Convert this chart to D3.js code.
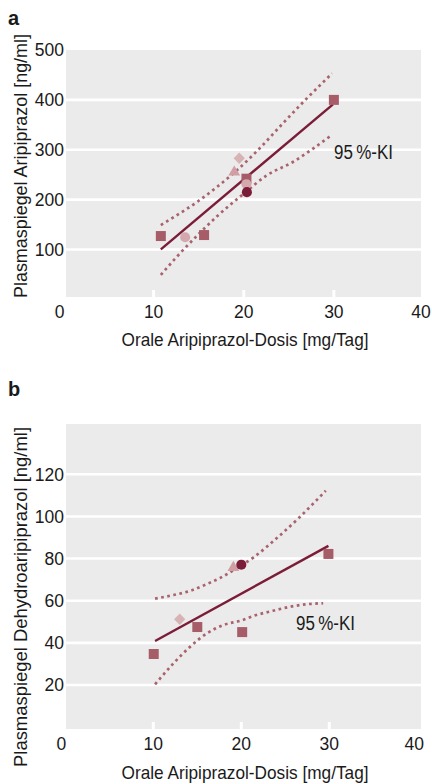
<!DOCTYPE html>
<html><head><meta charset="utf-8">
<script src="https://cdn.jsdelivr.net/npm/d3@7"></script>
<style>
html,body{margin:0;padding:0;background:#fff;}
svg text{font-family:"Liberation Sans","Arimo","DejaVu Sans",sans-serif;fill:#1a1a1a;}
</style></head>
<body>
<svg id="c" width="432" height="784"></svg>
<script>
// ---------- data ----------
const doseTicks = [0, 10, 20, 30, 40];
const xTitle = "Orale Aripiprazol-Dosis [mg/Tag]";
const ciLabel = "95\u2009%-KI";

// Panel a
const aTitle = "Plasmaspiegel Aripiprazol [ng/ml]";
const aYTicks = [100, 200, 300, 400, 500];
const aSquareX = [10.8, 15.6, 20.3, 30.0];
const aSquareY = [127, 129, 242, 400];
const aLightCircleX = [13.5, 20.3];
const aLightCircleY = [124.5, 231];
const aTriangleX = [18.95];
const aTriangleY = [255];
const aDiamondX = [19.5];
const aDiamondY = [283];
const aDarkCircleX = [20.35];
const aDarkCircleY = [215];
const aFitX = [10.8, 29.9];
const aFitY = [100.4, 391];
const aUpperX = [10.8, 12.5, 14.8, 17.0, 19.0, 21.5, 24.4, 27.0, 29.8];
const aUpperY = [149, 168, 195, 225, 255, 298, 354, 403, 453];
const aLowerX = [10.8, 12.5, 15.0, 17.0, 20.0, 22.5, 25.5, 27.5, 29.8];
const aLowerY = [49, 84, 131, 166, 212, 248, 276, 300, 330];

// Panel b
const bTitle = "Plasmaspiegel Dehydroaripiprazol [ng/ml]";
const bYTicks = [20, 40, 60, 80, 100, 120];
const bSquareX = [10.05, 15.0, 20.1, 29.9];
const bSquareY = [34.7, 47.5, 45.1, 82.2];
const bDiamondX = [13.0];
const bDiamondY = [51.2];
const bTriangleX = [19.1];
const bTriangleY = [75.7];
const bDarkCircleX = [20.0];
const bDarkCircleY = [77.1];
const bFitX = [10.2, 29.9];
const bFitY = [40.9, 86.0];
const bUpperX = [10.2, 12.3, 14.2, 16.1, 17.6, 19.5, 21.4, 24.0, 26.5, 28.2, 29.6];
const bUpperY = [61.0, 62.7, 64.7, 67.9, 70.8, 75.5, 80.6, 89.6, 99.1, 106.2, 112.2];
const bLowerX = [10.2, 12.3, 14.2, 16.1, 18.0, 19.9, 21.7, 23.6, 25.5, 27.4, 29.3];
const bLowerY = [20.3, 30.3, 38.2, 44.5, 48.5, 50.5, 53.2, 55.2, 57.1, 58.3, 58.8];

// ---------- style ----------
const C = {
  bg: "#ebebeb", grid: "#ffffff",
  square: "#a65d68", dark: "#7b1c38",
  lightCircle: "#d4a8ad", diamond: "#d8b3b6", triangle: "#cf9fa4",
  ci: "#a9636e"
};

const svg = d3.select("#c");
const zip = (xs, ys) => xs.map((x, i) => [x, ys[i]]);

function panel(cfg) {
  const g = svg.append("g");
  const x = d3.scaleLinear().domain([0, 40]).range(cfg.xRange);
  const y = d3.scaleLinear().domain(cfg.yDomain).range(cfg.yRange);

  g.append("rect").attr("x", cfg.box[0]).attr("y", cfg.box[1])
    .attr("width", cfg.box[2] - cfg.box[0]).attr("height", cfg.box[3] - cfg.box[1])
    .attr("fill", C.bg);

  // gridlines
  g.selectAll(".grid").data(cfg.yTicks.filter(v => y(v) > cfg.box[1] + 2))
    .join("line").attr("x1", cfg.box[0]).attr("x2", cfg.box[2])
    .attr("y1", d => y(d)).attr("y2", d => y(d))
    .attr("stroke", C.grid).attr("stroke-width", 2.6);

  // x ticks (white, inside bottom)
  g.selectAll(".xt").data(doseTicks.filter(d => d > 0 && d < 40))
    .join("line").attr("x1", d => x(d)).attr("x2", d => x(d))
    .attr("y1", cfg.box[3] - 7).attr("y2", cfg.box[3])
    .attr("stroke", C.grid).attr("stroke-width", 3);

  // y tick labels
  g.selectAll(".yl").data(cfg.yTicks).join("text")
    .attr("x", 64).attr("y", d => y(d)).attr("dy", "0.36em")
    .attr("text-anchor", "end").style("font-size", "17.5px").text(d => d);

  // x tick labels
  g.selectAll(".xl").data(doseTicks).join("text")
    .attr("x", d => x(d) + (d === 0 ? -4 : (d === 40 ? -3 : 0))).attr("y", cfg.xLabelY)
    .attr("text-anchor", "middle").style("font-size", "17.5px").text(d => d);

  // axis titles
  g.append("text").attr("x", 245).attr("y", cfg.xTitleY)
    .attr("text-anchor", "middle").style("font-size", "19px")
    .attr("textLength", 247).attr("lengthAdjust", "spacingAndGlyphs").text(xTitle);
  g.append("text")
    .attr("transform", `translate(${27},${cfg.yTitleC}) rotate(-90)`)
    .attr("text-anchor", "middle").style("font-size", "19px")
    .attr("textLength", cfg.yTitleLen).attr("lengthAdjust", "spacingAndGlyphs").text(cfg.yTitle);

  // panel letter
  g.append("text").attr("x", 8).attr("y", cfg.letterY)
    .style("font-size", "20px").style("font-weight", "bold").text(cfg.letter);

  const line = d3.line().x(d => x(d[0])).y(d => y(d[1])).curve(d3.curveMonotoneX);

  // CI
  [cfg.upper, cfg.lower].forEach(pts => {
    g.append("path").attr("d", line(pts)).attr("fill", "none")
      .attr("stroke", C.ci).attr("stroke-width", 2.7)
      .attr("stroke-dasharray", "2.7,3.5");
  });
  // fit
  g.append("path").attr("d", line(cfg.fit)).attr("fill", "none")
    .attr("stroke", C.dark).attr("stroke-width", 2.4);

  // markers
  const sym = (type, size) => d3.symbol().type(type).size(size)();
  const draw = (pts, type, size, color, rot) => {
    g.selectAll(null).data(pts).join("path")
      .attr("d", sym(type, size))
      .attr("transform", d => `translate(${x(d[0])},${y(d[1])})` + (rot ? ` rotate(${rot})` : ""))
      .attr("fill", color);
  };
  cfg.marks.forEach(m => draw(m.pts, m.type, m.size, m.color, m.rot));

  // CI label
  g.append("text").attr("x", cfg.ciPos[0]).attr("y", cfg.ciPos[1])
    .style("font-size", "20px")
    .attr("textLength", 59).attr("lengthAdjust", "spacingAndGlyphs").text(ciLabel);
}

panel({
  letter: "a", letterY: 25,
  box: [66, 50, 421, 297],
  xRange: [63.5, 424], yDomain: [0, 500], yRange: [299.4, 50],
  yTicks: aYTicks, xLabelY: 318, xTitleY: 346, yTitle: aTitle, yTitleC: 166, yTitleLen: 264,
  upper: zip(aUpperX, aUpperY), lower: zip(aLowerX, aLowerY), fit: zip(aFitX, aFitY),
  marks: [
    {pts: zip(aSquareX, aSquareY), type: d3.symbolSquare, size: 100, color: C.square},
    {pts: zip(aLightCircleX, aLightCircleY), type: d3.symbolCircle, size: 80, color: C.lightCircle},
    {pts: zip(aTriangleX, aTriangleY), type: d3.symbolTriangle, size: 60, color: C.triangle},
    {pts: zip(aDiamondX, aDiamondY), type: d3.symbolSquare, size: 64, color: C.diamond, rot: 45},
    {pts: zip(aDarkCircleX, aDarkCircleY), type: d3.symbolCircle, size: 80, color: C.dark}
  ],
  ciPos: [334, 159]
});

panel({
  letter: "b", letterY: 396,
  box: [66, 424, 421, 729],
  xRange: [65.3, 417.3], yDomain: [0, 120], yRange: [727.1, 474.3],
  yTicks: bYTicks, xLabelY: 750, xTitleY: 779, yTitle: bTitle, yTitleC: 597, yTitleLen: 340,
  upper: zip(bUpperX, bUpperY), lower: zip(bLowerX, bLowerY), fit: zip(bFitX, bFitY),
  marks: [
    {pts: zip(bSquareX, bSquareY), type: d3.symbolSquare, size: 100, color: C.square},
    {pts: zip(bDiamondX, bDiamondY), type: d3.symbolSquare, size: 64, color: C.diamond, rot: 45},
    {pts: zip(bTriangleX, bTriangleY), type: d3.symbolTriangle, size: 60, color: C.triangle},
    {pts: zip(bDarkCircleX, bDarkCircleY), type: d3.symbolCircle, size: 80, color: C.dark}
  ],
  ciPos: [296, 630]
});
</script>
</body></html>
